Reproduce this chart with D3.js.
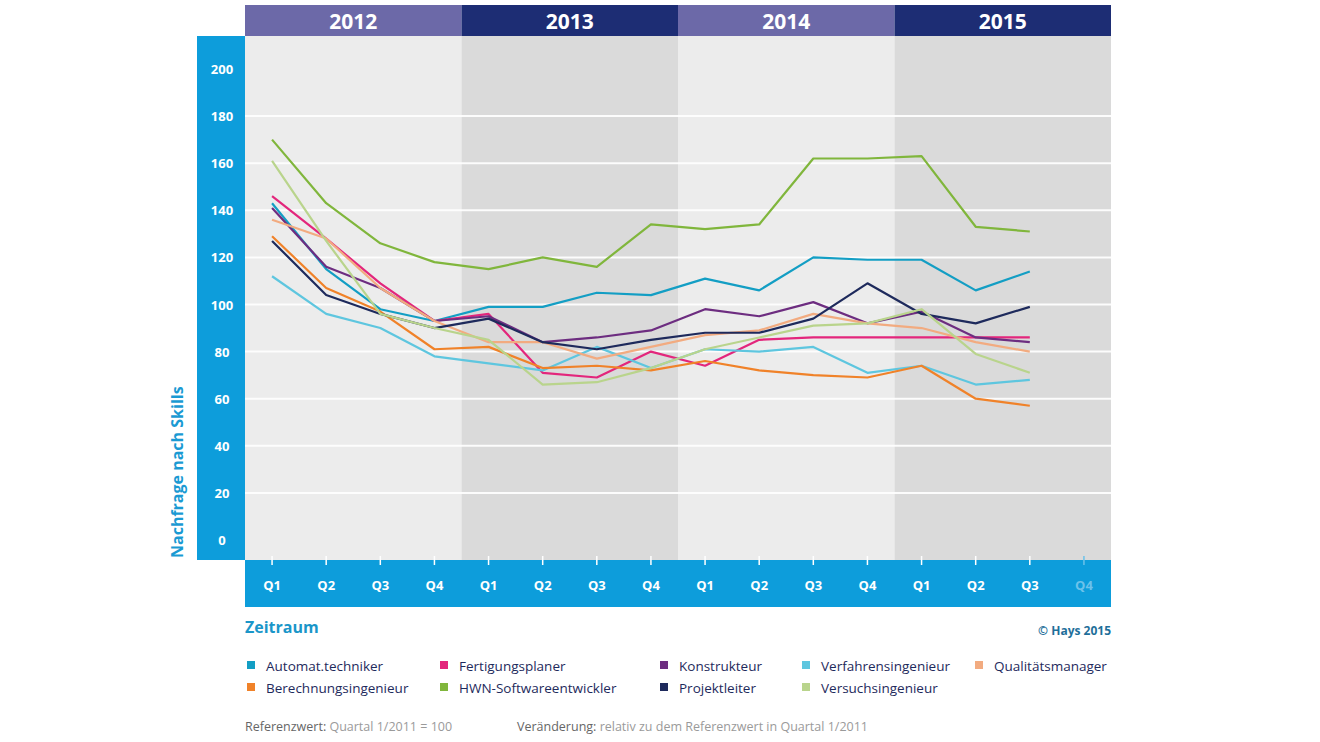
<!DOCTYPE html>
<html>
<head>
<meta charset="utf-8">
<title>Nachfrage nach Skills</title>
<script src="https://d3js.org/d3.v7.min.js"></script>
<style>
  body { margin: 0; background: #fff; font-family: "Open Sans", "Lato", sans-serif; }
</style>
</head>
<body>
<script>
// chart data
var years = ["2012", "2013", "2014", "2015"];
var quarters = ["Q1", "Q2", "Q3", "Q4"];
var yTicks = [0, 20, 40, 60, 80, 100, 120, 140, 160, 180, 200];

var automat      = [143, 115, 98, 93, 99, 99, 105, 104, 111, 106, 120, 119, 119, 106, 114];
var fertigung    = [146, 128, 109, 93, 96, 71, 69, 80, 74, 85, 86, 86, 86, 86, 86];
var konstrukteur = [141, 116, 107, 93, 95, 84, 86, 89, 98, 95, 101, 92, 97, 86, 84];
var verfahren    = [112, 96, 90, 78, 75, 72, 82, 73, 81, 80, 82, 71, 74, 66, 68];
var qualitaet    = [136, 128, 107, 93, 84, 84, 77, 82, 87, 89, 96, 92, 90, 84, 80];
var berechnung   = [129, 107, 97, 81, 82, 73, 74, 72, 76, 72, 70, 69, 74, 60, 57];
var hwn          = [170, 143, 126, 118, 115, 120, 116, 134, 132, 134, 162, 162, 163, 133, 131];
var projekt      = [127, 104, 96, 90, 94, 84, 81, 85, 88, 88, 94, 109, 96, 92, 99];
var versuch      = [161, 127, 96, 90, 85, 66, 67, 73, 81, 86, 91, 92, 98, 79, 71];

var series = [
  { name: "Automat.techniker",      color: "#139ec4", values: automat },
  { name: "Fertigungsplaner",       color: "#e3267c", values: fertigung },
  { name: "Konstrukteur",           color: "#6d2d80", values: konstrukteur },
  { name: "Verfahrensingenieur",    color: "#5ec6df", values: verfahren },
  { name: "Qualitätsmanager",       color: "#f2ab80", values: qualitaet },
  { name: "Berechnungsingenieur",   color: "#f08229", values: berechnung },
  { name: "HWN-Softwareentwickler", color: "#80b63c", values: hwn },
  { name: "Projektleiter",          color: "#1e2a5c", values: projekt },
  { name: "Versuchsingenieur",      color: "#b9d48c", values: versuch }
];

var width = 1320, height = 742;
var blue = "#0d9ddb";

var svg = d3.select("body").append("svg")
  .attr("width", width)
  .attr("height", height);

// all quarter slots, 4 per year
var slots = [];
years.forEach(function(yr) { quarters.forEach(function(q) { slots.push(yr + "-" + q); }); });

var plotLeft = 245, plotRight = 1111, plotTop = 36, plotBottom = 560;

var xYear = d3.scaleBand().domain(years).range([plotLeft, plotRight]);
var x = d3.scaleBand().domain(slots).range([plotLeft, plotRight]);
var y = d3.scaleLinear().domain([0, 200]).range([540, 69]);

// year backgrounds
svg.append("g").selectAll("rect")
  .data(years).enter().append("rect")
  .attr("x", function(d) { return xYear(d); })
  .attr("y", plotTop)
  .attr("width", xYear.bandwidth())
  .attr("height", plotBottom - plotTop)
  .attr("fill", function(d, i) { return i % 2 ? "#dadada" : "#ececec"; });

// header bars
var head = svg.append("g");
head.selectAll("rect")
  .data(years).enter().append("rect")
  .attr("x", function(d) { return xYear(d); })
  .attr("y", 5)
  .attr("width", xYear.bandwidth())
  .attr("height", plotTop - 5)
  .attr("fill", function(d, i) { return i % 2 ? "#1d2d74" : "#6c69a8"; });
head.selectAll("text")
  .data(years).enter().append("text")
  .attr("x", function(d) { return xYear(d) + xYear.bandwidth() / 2; })
  .attr("y", 29)
  .attr("text-anchor", "middle")
  .attr("fill", "#fff")
  .attr("font-size", 21)
  .attr("font-weight", 700)
  .text(function(d) { return d; });

// gridlines
svg.append("g").selectAll("line")
  .data(yTicks.filter(function(t) { return t > 0 && t < 200; })).enter().append("line")
  .attr("x1", plotLeft).attr("x2", plotRight)
  .attr("y1", function(d) { return y(d); })
  .attr("y2", function(d) { return y(d); })
  .attr("stroke", "#fff")
  .attr("stroke-opacity", 0.9)
  .attr("stroke-width", 2);

// y axis band
svg.append("rect")
  .attr("x", 197).attr("y", plotTop)
  .attr("width", plotLeft - 197).attr("height", plotBottom - plotTop)
  .attr("fill", blue);

var yAxis = svg.append("g")
  .attr("transform", "translate(222,0)")
  .call(d3.axisLeft(y).tickValues(yTicks).tickSize(0));
yAxis.select(".domain").remove();
yAxis.selectAll("text")
  .attr("x", 0)
  .attr("dy", "0.35em")
  .attr("text-anchor", "middle")
  .attr("fill", "#fff")
  .attr("font-size", 13)
  .attr("font-weight", 700)
  .attr("font-family", "Open Sans, sans-serif");

svg.append("text")
  .attr("transform", "translate(183,558) rotate(-90)")
  .attr("fill", "#1a9ad3")
  .attr("font-size", 16)
  .attr("font-weight", 700)
  .text("Nachfrage nach Skills");

// x axis band
svg.append("rect")
  .attr("x", plotLeft).attr("y", plotBottom)
  .attr("width", plotRight - plotLeft).attr("height", 47)
  .attr("fill", blue);

var xAxis = svg.append("g")
  .attr("transform", "translate(0," + plotBottom + ")")
  .call(d3.axisBottom(x).tickSize(0).tickFormat(function(d) { return d.split("-")[1]; }));
xAxis.select(".domain").remove();
xAxis.selectAll("text")
  .attr("y", 30)
  .attr("dy", 0)
  .attr("fill", function(d, i) { return i === slots.length - 1 ? "#6cc2ea" : "#fff"; })
  .attr("font-size", 13)
  .attr("font-weight", 700)
  .attr("font-family", "Open Sans, sans-serif");
xAxis.selectAll(".tick").append("line")
  .attr("y1", -4).attr("y2", 5)
  .attr("stroke", function(d, i) { return i === slots.length - 1 ? "#6cc2ea" : "#fff"; })
  .attr("stroke-width", 1.5);

// lines
var line = d3.line()
  .x(function(d, i) { return x(slots[i]) + x.bandwidth() / 2; })
  .y(function(d) { return y(d); });

svg.append("g").selectAll("path")
  .data(series).enter().append("path")
  .attr("d", function(d) { return line(d.values); })
  .attr("fill", "none")
  .attr("stroke", function(d) { return d.color; })
  .attr("stroke-width", 2.2)
  .attr("stroke-linejoin", "round");

// labels below
svg.append("text")
  .attr("x", 245).attr("y", 633)
  .attr("fill", "#1a96c9")
  .attr("font-size", 16)
  .attr("font-weight", 700)
  .text("Zeitraum");

svg.append("text")
  .attr("x", plotRight).attr("y", 635)
  .attr("text-anchor", "end")
  .attr("fill", "#1f6f9a")
  .attr("font-size", 12)
  .attr("font-weight", 700)
  .text("© Hays 2015");

// legend
var legendCols = [247, 440, 660, 802, 975];
var legendOrder = [
  ["Automat.techniker", "Fertigungsplaner", "Konstrukteur", "Verfahrensingenieur", "Qualitätsmanager"],
  ["Berechnungsingenieur", "HWN-Softwareentwickler", "Projektleiter", "Versuchsingenieur"]
];
var legendItems = [];
legendOrder.forEach(function(row, r) {
  row.forEach(function(name, c) {
    var s = series.filter(function(d) { return d.name === name; })[0];
    legendItems.push({ name: name, color: s.color, col: c, row: r });
  });
});

var lg = svg.append("g").selectAll("g")
  .data(legendItems).enter().append("g")
  .attr("transform", function(d) { return "translate(" + legendCols[d.col] + "," + (666 + d.row * 22) + ")"; });
lg.append("rect")
  .attr("x", 0).attr("y", -5)
  .attr("width", 8).attr("height", 8)
  .attr("fill", function(d) { return d.color; });
lg.append("text")
  .attr("x", 19).attr("y", 5)
  .attr("fill", "#1e2a5c")
  .attr("font-size", 13.5)
  .text(function(d) { return d.name; });

// footnote
var foot = svg.append("g").attr("font-size", 12.5);
var f1 = foot.append("text").attr("x", 245).attr("y", 731);
f1.append("tspan").attr("fill", "#666").text("Referenzwert: ");
f1.append("tspan").attr("fill", "#9a9a9a").text("Quartal 1/2011 = 100");
var f2 = foot.append("text").attr("x", 517).attr("y", 731);
f2.append("tspan").attr("fill", "#666").text("Veränderung: ");
f2.append("tspan").attr("fill", "#9a9a9a").text("relativ zu dem Referenzwert in Quartal 1/2011");
</script>
</body>
</html>
